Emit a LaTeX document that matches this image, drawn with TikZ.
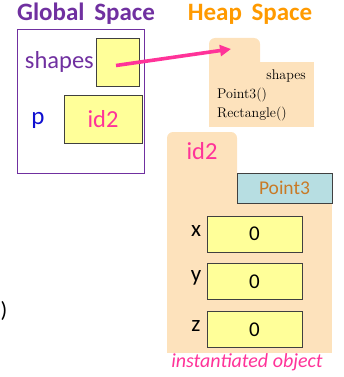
\documentclass[tikz,border=0pt]{standalone}
\usepackage{fontspec}
\setsansfont{Carlito}
\usetikzlibrary{arrows.meta}
\definecolor{gpurple}{HTML}{7030A0}
\definecolor{horange}{HTML}{FF9A00}
\definecolor{idpink}{HTML}{FF3399}
\definecolor{peach}{HTML}{FDE2BC}
\definecolor{cellyellow}{HTML}{FFFF99}
\definecolor{classblue}{HTML}{B7DEE2}
\definecolor{classtext}{HTML}{C97A26}
\definecolor{pblue}{HTML}{1010D0}
\definecolor{cellborder}{HTML}{404040}
\tikzset{
  cell/.style={draw=cellborder, line width=1pt, fill=cellyellow, inner sep=0pt, font=\sffamily\fontsize{21}{21}\selectfont},
  classbox/.style={draw=cellborder, line width=1pt, fill=classblue, inner sep=0pt, text=classtext, font=\sffamily\fontsize{19.5}{19.5}\selectfont},
  varlabel/.style={inner sep=0pt, font=\sffamily\fontsize{23}{23}\selectfont},
  title/.style={inner sep=0pt, font=\sffamily\bfseries\fontsize{25}{25}\selectfont},
  heaptext/.style={inner sep=0pt, font=\fontsize{14}{14}\selectfont},
  ref/.style={draw=idpink, line width=3.6pt, -{Triangle[length=11pt,width=11pt]}},
}
\begin{document}
\begin{tikzpicture}[x=1pt,y=-1pt]
\useasboundingbox (0,0) rectangle (343,377);
% titles
\node[title, text=gpurple] (gtitle) at (86,14) {Global\hspace{4pt} Space};
\node[title, text=horange] (htitle) at (250,14) {Heap\hspace{4pt} Space};
% global frame
\node[draw=gpurple, line width=0.8pt, minimum width=127pt, minimum height=144pt, inner sep=0pt] (gframe) at (80.5,101) {};
\node[cell, minimum width=43pt, minimum height=48pt] (shapesbox) at (117.5,63) {};
\node[varlabel, text=gpurple, anchor=east, font=\sffamily\fontsize{24.5}{24.5}\selectfont] (shapeslbl) at (94,62) {shapes};
\node[cell, minimum width=78pt, minimum height=47pt, text=idpink, font=\sffamily\fontsize{24.5}{24.5}\selectfont] (pbox) at (103,119.5) {id2};
\node[varlabel, text=pblue, font=\sffamily\fontsize{25}{25}\selectfont] (plbl) at (38,120) {p};
% heap folder: shapes
\fill[peach, rounded corners=6pt] (209,38) rectangle (260,80);
\fill[peach] (209,62) rectangle (314,127);
\node[heaptext, anchor=east] (hshapes) at (306,76) {shapes};
\node[heaptext, anchor=west] (hpoint) at (217,95) {Point3()};
\node[heaptext, anchor=west] (hrect) at (217,114) {Rectangle()};
\coordinate (tabpt) at (231,49);
% heap folder: id2
\fill[peach, rounded corners=6pt] (167,132) rectangle (237,190);
\fill[peach] (167,173) rectangle (332,353);
\node[inner sep=0pt, text=idpink, font=\sffamily\fontsize{24.5}{24.5}\selectfont] (idtab) at (202,151) {id2};
\node[classbox, minimum width=95pt, minimum height=30pt] (cls) at (284.5,188) {Point3};
\node[cell, minimum width=95pt, minimum height=36pt] (xbox) at (254.5,234) {0};
\node[cell, minimum width=95pt, minimum height=36pt] (ybox) at (254.5,281.5) {0};
\node[cell, minimum width=95pt, minimum height=36pt] (zbox) at (254.5,329.5) {0};
\node[varlabel] (xl) at (196,231) {x};
\node[varlabel] (yl) at (196,278) {y};
\node[varlabel] (zl) at (196,326) {z};
\node[inner sep=0pt, text=idpink, font=\sffamily\itshape\fontsize{20}{20}\selectfont] (inst) at (247,362) {instantiated object};
\node[inner sep=0pt, font=\sffamily\fontsize{22}{22}\selectfont] (paren) at (4,311) {)};
% reference arrow
\coordinate (arrstart) at ([shift={(-1.5,2.5)}]shapesbox.center);
\draw[ref] (arrstart) -- (tabpt);
\end{tikzpicture}
\end{document}
